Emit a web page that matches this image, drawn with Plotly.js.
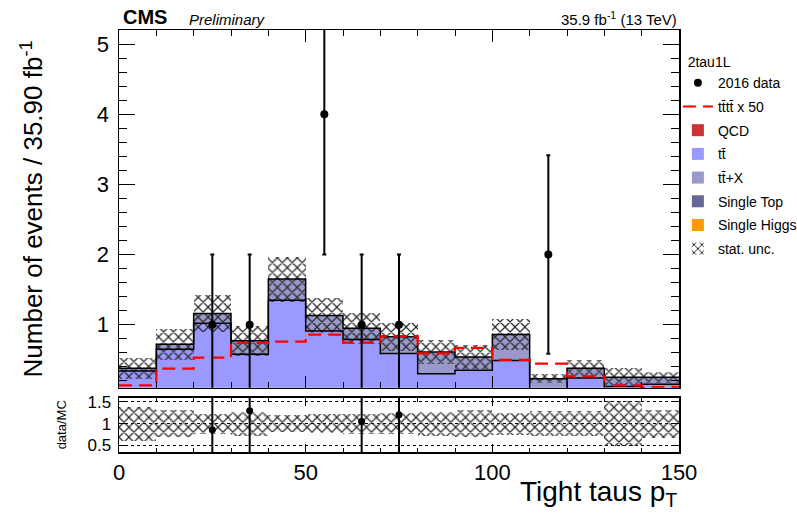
<!DOCTYPE html>
<html>
<head>
<meta charset="utf-8">
<script src="https://cdn.plot.ly/plotly-3.0.1.min.js"></script>
<style>
  html, body { margin: 0; padding: 0; background: #fff; }
  #chart { width: 797px; height: 515px; }
</style>
</head>
<body>
<div id="chart"></div>
<script>
// Tight tau pT distribution, 2tau1L channel, 10 GeV bins from 0 to 150
const binEdges = [0, 10, 20, 30, 40, 50, 60, 70, 80, 90, 100, 110, 120, 130, 140, 150];

// Expected events per bin for each background process
const ttbar       = [0.34, 0.65, 1.02, 0.58, 1.35, 0.91, 0.79, 0.59, 0.30, 0.35, 0.49, 0.05, 0.24, 0.12, 0.15];
const ttbarX      = [0.04, 0.07, 0.14, 0.19, 0.30, 0.22, 0.16, 0.24, 0.31, 0.19, 0.37, 0.18, 0.14, 0.13, 0.10];
const singleTop   = [0, 0, 0, 0, 0, 0, 0, 0, 0, 0, 0, 0, 0, 0, 0];
const qcd         = [0, 0, 0, 0, 0, 0, 0, 0, 0, 0, 0, 0, 0, 0, 0];
const singleHiggs = [0, 0, 0, 0, 0, 0, 0, 0, 0, 0, 0, 0, 0, 0, 0];

// Statistical uncertainty on the total background
const statUnc = [0.15, 0.225, 0.27, 0.21, 0.32, 0.25, 0.22, 0.20, 0.17, 0.165, 0.22, 0.065, 0.11, 0.13, 0.08];

// Four-top signal scaled by 50
const tttt50 = [0.136, 0.374, 0.53, 0.74, 0.76, 0.86, 0.745, 0.836, 0.59, 0.67, 0.50, 0.445, 0.265, 0.136, 0.11];

// Observed 2016 data counts
const dataCounts = [0, 0, 1, 1, 0, 4, 1, 1, 0, 0, 0, 2, 0, 0, 0];

const FONT = 'Liberation Sans, Arial, Helvetica, sans-serif';
const nBins = binEdges.length - 1;
const centers = [], widths = [];
for (let i = 0; i < nBins; i++) {
  centers.push((binEdges[i] + binEdges[i + 1]) / 2);
  widths.push(binEdges[i + 1] - binEdges[i]);
}

const stackOrder = [ttbar, ttbarX, singleTop, qcd, singleHiggs];
const total = centers.map((_, i) => stackOrder.reduce((s, h) => s + h[i], 0));

// step helper: value per bin -> y for an 'hv' line over the bin edges
const stepY = v => v.concat([v[v.length - 1]]);

const uncBase = total.map((t, i) => t - statUnc[i]);
const uncSpan = statUnc.map(u => 2 * u);
const relUnc = statUnc.map((u, i) => u / total[i]);
const ratioBase = relUnc.map(r => 1 - r);
const ratioSpan = relUnc.map(r => 2 * r);

const dX = [], dY = [], dErr = [], rY = [], rErr = [];
dataCounts.forEach((n, i) => {
  if (n > 0) {
    dX.push(centers[i]);
    dY.push(n);
    dErr.push(Math.sqrt(n));
    rY.push(n / total[i]);
    rErr.push(Math.sqrt(n) / total[i]);
  }
});

const hatch = { shape: 'x', size: 7, solidity: 0.32 };

function stackBar(vals, name, color, rank) {
  return {
    type: 'bar', x: centers, y: vals, width: widths, name: name,
    legendgroup: name, legendrank: rank,
    marker: { color: color, line: { width: 0 } },
    hoverinfo: 'skip', xaxis: 'x', yaxis: 'y'
  };
}

const traces = [
  stackBar(ttbar, 'tt\u0304', '#9999ff', 4),
  stackBar(ttbarX, 'tt\u0304+X', '#9999cc', 5),
  stackBar(singleTop, 'Single Top', '#666699', 6),
  stackBar(qcd, 'QCD', '#cc3333', 3),
  stackBar(singleHiggs, 'Single Higgs', '#ff9900', 7),
  {
    type: 'bar', x: centers, y: uncSpan, base: uncBase, width: widths,
    name: 'stat. unc.', legendgroup: 'unc', legendrank: 8,
    marker: { color: '#2a2a2a', line: { width: 0 }, pattern: hatch },
    hoverinfo: 'skip', xaxis: 'x', yaxis: 'y'
  },
  {
    type: 'bar', x: centers, y: ratioSpan, base: ratioBase, width: widths,
    showlegend: false,
    marker: { color: '#2a2a2a', line: { width: 0 }, pattern: hatch },
    hoverinfo: 'skip', xaxis: 'x2', yaxis: 'y2'
  },
  {
    type: 'scatter', mode: 'lines', x: binEdges, y: stepY(ttbar),
    line: { shape: 'hv', color: '#000', width: 1.5 }, showlegend: false,
    hoverinfo: 'skip', xaxis: 'x', yaxis: 'y'
  },
  {
    type: 'scatter', mode: 'lines', x: binEdges, y: stepY(total),
    line: { shape: 'hv', color: '#000', width: 1.5 }, showlegend: false,
    hoverinfo: 'skip', xaxis: 'x', yaxis: 'y'
  },
  {
    type: 'scatter', mode: 'lines', x: binEdges, y: stepY(tttt50),
    name: 'tt\u0304tt\u0304 x 50', legendgroup: 'sig', legendrank: 2,
    line: { shape: 'hv', color: '#ff0000', width: 2.2, dash: '13px,7px' },
    xaxis: 'x', yaxis: 'y'
  },
  {
    type: 'scatter', mode: 'markers', x: dX, y: dY, name: '2016 data',
    legendgroup: 'data', legendrank: 1,
    marker: { color: '#000', size: 8, symbol: 'circle' },
    error_y: { type: 'data', array: dErr, color: '#000', thickness: 2, width: 2 },
    xaxis: 'x', yaxis: 'y'
  },
  {
    type: 'scatter', mode: 'markers', x: dX, y: rY, showlegend: false,
    marker: { color: '#000', size: 7, symbol: 'circle' },
    error_y: { type: 'data', array: rErr, color: '#000', thickness: 2, width: 2 },
    xaxis: 'x2', yaxis: 'y2'
  }
];

const axisCommon = {
  showline: true, linecolor: '#000', linewidth: 1.5, mirror: 'allticks',
  ticks: 'inside', tickcolor: '#000', tickwidth: 1, zeroline: false, showgrid: false,
  tickfont: { family: FONT, size: 22, color: '#000' }, fixedrange: true
};

const layout = {
  width: 797, height: 515,
  margin: { l: 119, r: 118, t: 30, b: 63, autoexpand: false },
  paper_bgcolor: '#fff', plot_bgcolor: '#fff',
  barmode: 'stack', bargap: 0,
  font: { family: FONT, color: '#000' },
  showlegend: true,
  legend: {
    x: 0.998, xanchor: 'left', y: 0.955, yanchor: 'top',
    bgcolor: 'rgba(0,0,0,0)', borderwidth: 0,
    font: { family: FONT, size: 14, color: '#000' },
    title: { text: '  2tau1L', font: { family: FONT, size: 14, color: '#000' } },
    traceorder: 'grouped', tracegroupgap: 2.5, itemwidth: 30
  },
  xaxis: Object.assign({}, axisCommon, {
    domain: [0, 1], range: [0, 150], anchor: 'y',
    tick0: 0, dtick: 50, ticklen: 12, showticklabels: false,
    minor: { dtick: 10, ticklen: 6, ticks: 'inside', tickcolor: '#000', tickwidth: 1 }
  }),
  yaxis: Object.assign({}, axisCommon, {
    domain: [0.152, 1], range: [0.1, 5.2], anchor: 'x',
    tick0: 0, dtick: 1, ticklen: 16, ticklabelstandoff: 4,
    minor: { dtick: 0.2, ticklen: 8, ticks: 'inside', tickcolor: '#000', tickwidth: 1 },
    title: { text: 'Number of events / 35.90 fb<sup>-1</sup>', standoff: 46,
             font: { family: FONT, size: 26, color: '#000' } }
  }),
  xaxis2: Object.assign({}, axisCommon, {
    domain: [0, 1], range: [0, 150], anchor: 'y2', matches: 'x',
    tick0: 0, dtick: 50, ticklen: 8,
    minor: { dtick: 10, ticklen: 4, ticks: 'inside', tickcolor: '#000', tickwidth: 1 }
  }),
  yaxis2: Object.assign({}, axisCommon, {
    domain: [0, 0.129], range: [0.35, 1.6], anchor: 'x2',
    tickvals: [0.5, 1, 1.5], ticktext: ['0.5', '1', '1.5'], ticklen: 8,
    tickfont: { family: FONT, size: 17, color: '#000' }, ticklabelstandoff: 3,
    showgrid: true, gridcolor: '#000', gridwidth: 1, griddash: 'dot',
    title: { text: 'data/MC', standoff: 18, font: { family: FONT, size: 13, color: '#000' } }
  }),
  annotations: [
    { xref: 'paper', yref: 'paper', x: 0.004, y: 1, xanchor: 'left', yanchor: 'bottom',
      text: '<b>CMS</b>', showarrow: false, font: { family: FONT, size: 20, color: '#000' } },
    { xref: 'paper', yref: 'paper', x: 0.122, y: 1, xanchor: 'left', yanchor: 'bottom',
      text: '<i>Preliminary</i>', showarrow: false, font: { family: FONT, size: 15, color: '#000' } },
    { xref: 'paper', yref: 'paper', x: 1, y: 1, xanchor: 'right', yanchor: 'bottom',
      text: '35.9 fb<sup>-1</sup> (13 TeV)', showarrow: false, font: { family: FONT, size: 15, color: '#000' } },
    { xref: 'paper', yref: 'paper', x: 1, y: 0, xanchor: 'right', yanchor: 'top', yshift: -22,
      text: 'Tight taus p<sub>T</sub>', showarrow: false, font: { family: FONT, size: 28, color: '#000' } }
  ]
};

Plotly.newPlot('chart', traces, layout, { staticPlot: true, displayModeBar: false });
</script>
</body>
</html>
